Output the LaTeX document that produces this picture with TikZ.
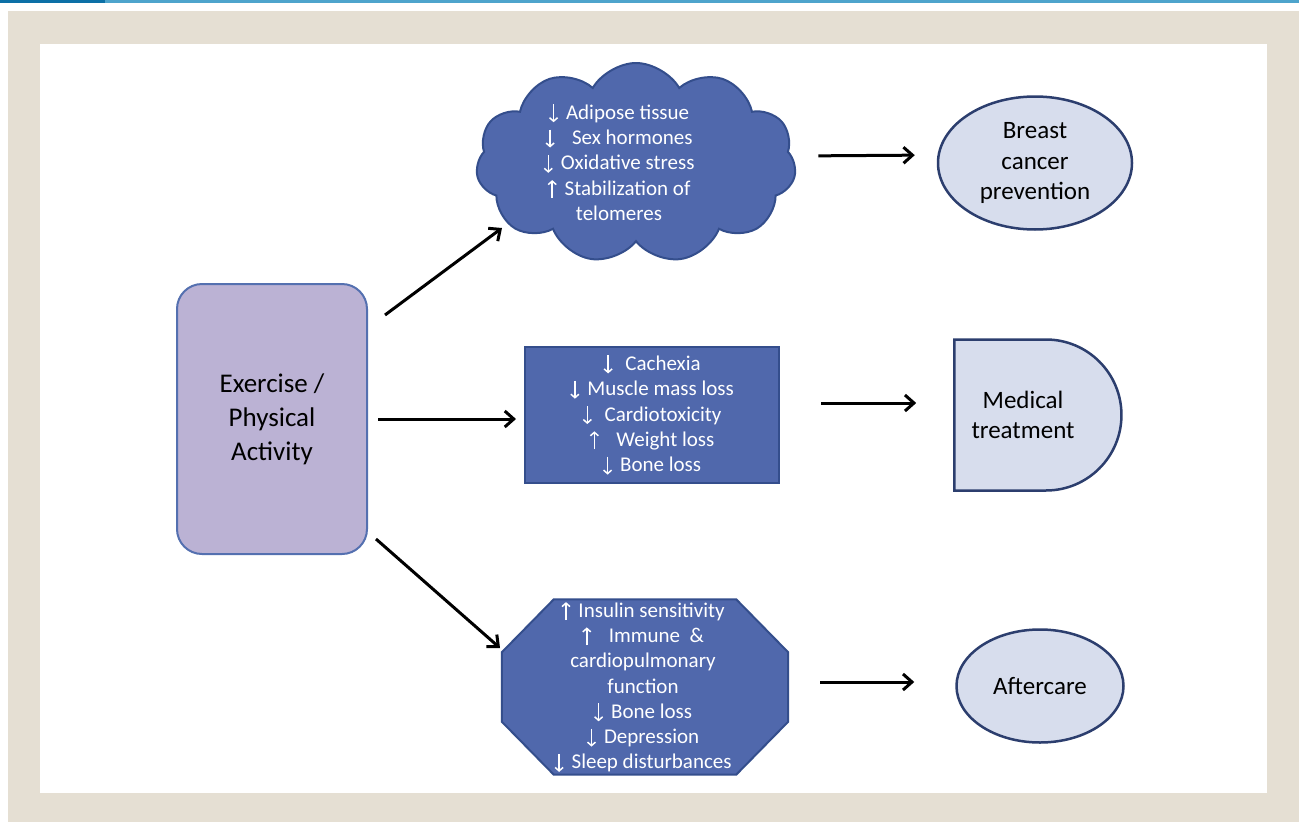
\documentclass[tikz,border=0pt]{standalone}
\usepackage{fontspec}
\setmainfont{Carlito}
\usepackage{xcolor}
\usepackage{tikz}
\usetikzlibrary{arrows.meta, positioning, shapes.symbols, shapes.misc, shapes.geometric}

\definecolor{paper}{RGB}{229,223,211}
\definecolor{topdark}{RGB}{12,112,166}
\definecolor{toplight}{RGB}{78,164,204}
\definecolor{exfill}{RGB}{187,178,212}
\definecolor{exline}{RGB}{84,112,176}
\definecolor{effill}{RGB}{80,104,172}
\definecolor{efline}{RGB}{52,78,140}
\definecolor{goalfill}{RGB}{215,221,237}
\definecolor{goalline}{RGB}{44,62,110}

% small white up/down arrows set inline with the text
\newcommand{\dn}{\tikz[baseline=0pt]\draw[white, line width=1.5pt,
  -{Straight Barb[length=3.5pt, width=8pt]}] (0pt,15pt) -- (0pt,-3pt);\hspace{3pt}}
\newcommand{\up}{\tikz[baseline=0pt]\draw[white, line width=1.5pt,
  -{Straight Barb[length=3.5pt, width=8pt]}] (0pt,-3pt) -- (0pt,15pt);\hspace{3pt}}

\begin{document}
\begin{tikzpicture}[x=1pt, y=-1pt,
  exbox/.style={rectangle, draw=exline, fill=exfill, line width=2pt, rounded corners=25pt,
    minimum width=190pt, minimum height=270pt, align=center,
    font=\fontsize{27}{34}\selectfont},
  effect/.style={draw=efline, fill=effill, line width=2pt, inner sep=0pt,
    text=white, align=center, font=\fontsize{21}{25.3}\selectfont},
  efftext/.style={inner sep=0pt, text=white, align=center, font=\fontsize{21}{25.3}\selectfont},
  goal/.style={draw=goalline, fill=goalfill, line width=2.5pt, inner sep=0pt,
    align=center, font=\fontsize{25}{30.5}\selectfont},
  arr/.style={-{Straight Barb[length=9pt, width=16pt]}, line width=3pt}
]
  \useasboundingbox (0,0) rectangle (1299,822);
  \fill[paper] (8,11) rectangle (1299,822);
  \fill[white] (40,44) rectangle (1267,793);
  \fill[topdark] (0,0) rectangle (105,2.5);
  \fill[toplight] (105,0) rectangle (1299,2.5);

  \node[exbox] (ex) at (272,419) {Exercise /\\Physical\\Activity};

  \node[effect, cloud, cloud puffs=11, cloud puff arc=120,
    minimum width=320pt, minimum height=200pt] (cloud) at (636,163) {};
  \node[efftext] (cloudtxt) at (619,162)
    {\dn\ Adipose tissue\\\dn\ \ \ Sex hormones\\\dn\ Oxidative stress\\
     \up\ Stabilization of\\telomeres};

  \node[effect, rectangle, minimum width=254pt, minimum height=136pt] (mid) at (652,415)
    {\dn\ \ Cachexia\\\dn\ Muscle mass loss\\\dn\ \ Cardiotoxicity\\
     \up\ \ \ Weight loss\\\dn\ Bone loss};

  % octagon drawn round an empty box
  \node[minimum width=286pt, minimum height=175pt, inner sep=0pt] (oct) at (645,687) {};
  \filldraw[effect] ([xshift=52pt]oct.north west) -- ([xshift=-52pt]oct.north east)
    -- ([yshift=-53pt]oct.north east) -- ([yshift=53pt]oct.south east)
    -- ([xshift=-52pt]oct.south east) -- ([xshift=52pt]oct.south west)
    -- ([yshift=53pt]oct.south west) -- ([yshift=-53pt]oct.north west) -- cycle;
  \node[efftext] (octtxt) at (643,687)
    {\up\ Insulin sensitivity\\\up\ \ \ Immune \ \&\\cardiopulmonary\\function\\
     \dn\ Bone loss\\\dn\ Depression\\\dn\ Sleep disturbances};

  \node[goal, ellipse, minimum width=194pt, minimum height=133pt] (prev) at (1035,163)
    {Breast\\cancer\\prevention};
  \node[goal, rounded rectangle, rounded rectangle left arc=none,
    minimum width=167pt, minimum height=151pt] (med) at (1036,415)
    {Medical\hspace*{26pt}\\treatment\hspace*{26pt}};
  \node[goal, ellipse, minimum width=167pt, minimum height=113pt] (after) at (1040,686)
    {Aftercare};

  \draw[arr] ([shift={(17,-104)}]ex.east) -- ([shift={(-134,65)}]cloud.center);
  \draw[arr] ([xshift=10pt]ex.east) -- ([xshift=-8pt]ex.east -| mid.west);
  \draw[arr] ([shift={(8,120)}]ex.east) -- ([shift={(-145,-39)}]oct.center);

  \draw[arr, shorten <=23pt, shorten >=22pt] ([yshift=7pt]cloud.east) -- ([yshift=8pt]prev.west);
  \draw[arr, shorten <=41pt, shorten >=37pt] ([yshift=12pt]mid.east) -- ([yshift=12pt]med.west);
  \draw[arr, shorten <=32pt, shorten >=41pt] ([yshift=5pt]oct.east) -- ([yshift=4pt]after.west);
\end{tikzpicture}
\end{document}
